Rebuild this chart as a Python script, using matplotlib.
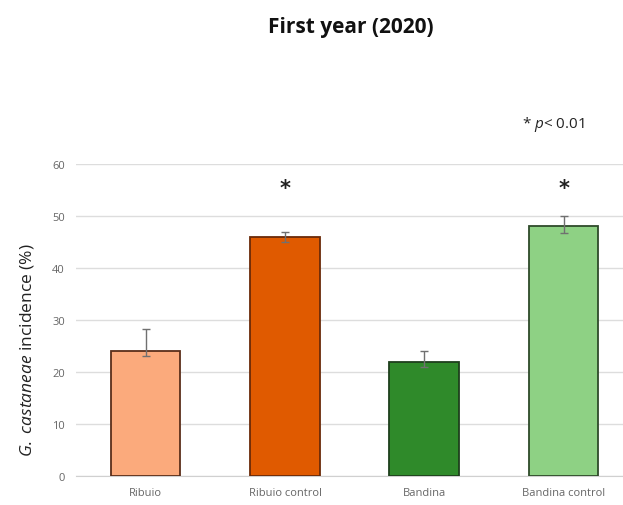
import matplotlib
matplotlib.use('Agg')
import matplotlib.pyplot as plt
import numpy as np

# Data
categories = ['Ribuio', 'Ribuio control', 'Bandina', 'Bandina control']
incidence = [24, 46, 22, 48]
err_low = [1.0, 1.0, 1.0, 1.2]
err_high = [4.2, 1.0, 2.0, 2.0]
significant = [False, True, False, True]

bar_colors = ['#FBAA7C', '#E05A00', '#2F8A2A', '#8ED184']
edge_colors = ['#5A2E1A', '#6A2A08', '#1E3F1C', '#2E4A2A']

plt.rcParams['font.family'] = ['Open Sans', 'DejaVu Sans']
plt.rcParams['mathtext.fontset'] = 'custom'
plt.rcParams['mathtext.rm'] = 'Open Sans'
plt.rcParams['mathtext.it'] = 'Open Sans:italic'

fig = plt.figure(figsize=(6.23, 5.06), dpi=100)
ax = fig.add_axes([76 / 623, 29 / 506, 547 / 623, 312 / 506])

x = np.arange(len(categories))
ax.bar(x, incidence, width=0.5, color=bar_colors, edgecolor=edge_colors,
       linewidth=1.3, zorder=3)
ax.errorbar(x, incidence, yerr=[err_low, err_high], fmt='none', ecolor='#707070',
            elinewidth=1.0, capsize=3, capthick=1.0, zorder=4)

for i, sig in enumerate(significant):
    if sig:
        ax.text(x[i], 55.4, '*', ha='center', va='center', fontsize=15,
                fontweight='bold', family='DejaVu Sans', color='#222222')

ax.set_xlim(-0.5, -0.5 + 547 / 139.3)
ax.set_ylim(0, 60)
ax.set_yticks(range(0, 61, 10))
ax.set_xticks(x)
ax.set_xticklabels(categories)
ax.tick_params(axis='both', length=0, labelsize=8, labelcolor='#666666', pad=8)
ax.grid(axis='y', color='#DDDDDD', linewidth=1.0, zorder=0)
for s in ['top', 'right', 'left']:
    ax.spines[s].set_visible(False)
ax.spines['bottom'].set_color('#D0D0D0')
ax.set_ylabel(r'$\it{G.}$ $\it{castaneae}$ incidence (%)', fontsize=12.5, color='#222222')
ax.yaxis.set_label_coords(-0.073, 0.407)

fig.text(351 / 623, 1 - 27 / 506, 'First year (2020)', ha='center', va='center',
         fontsize=15, fontweight='bold', color='#111111')
fig.text(553 / 623, 1 - 125 / 506, r'* $\it{p}$< 0.01', ha='center', va='center',
         fontsize=11, color='#222222')

fig.savefig('out.png', dpi=100)
